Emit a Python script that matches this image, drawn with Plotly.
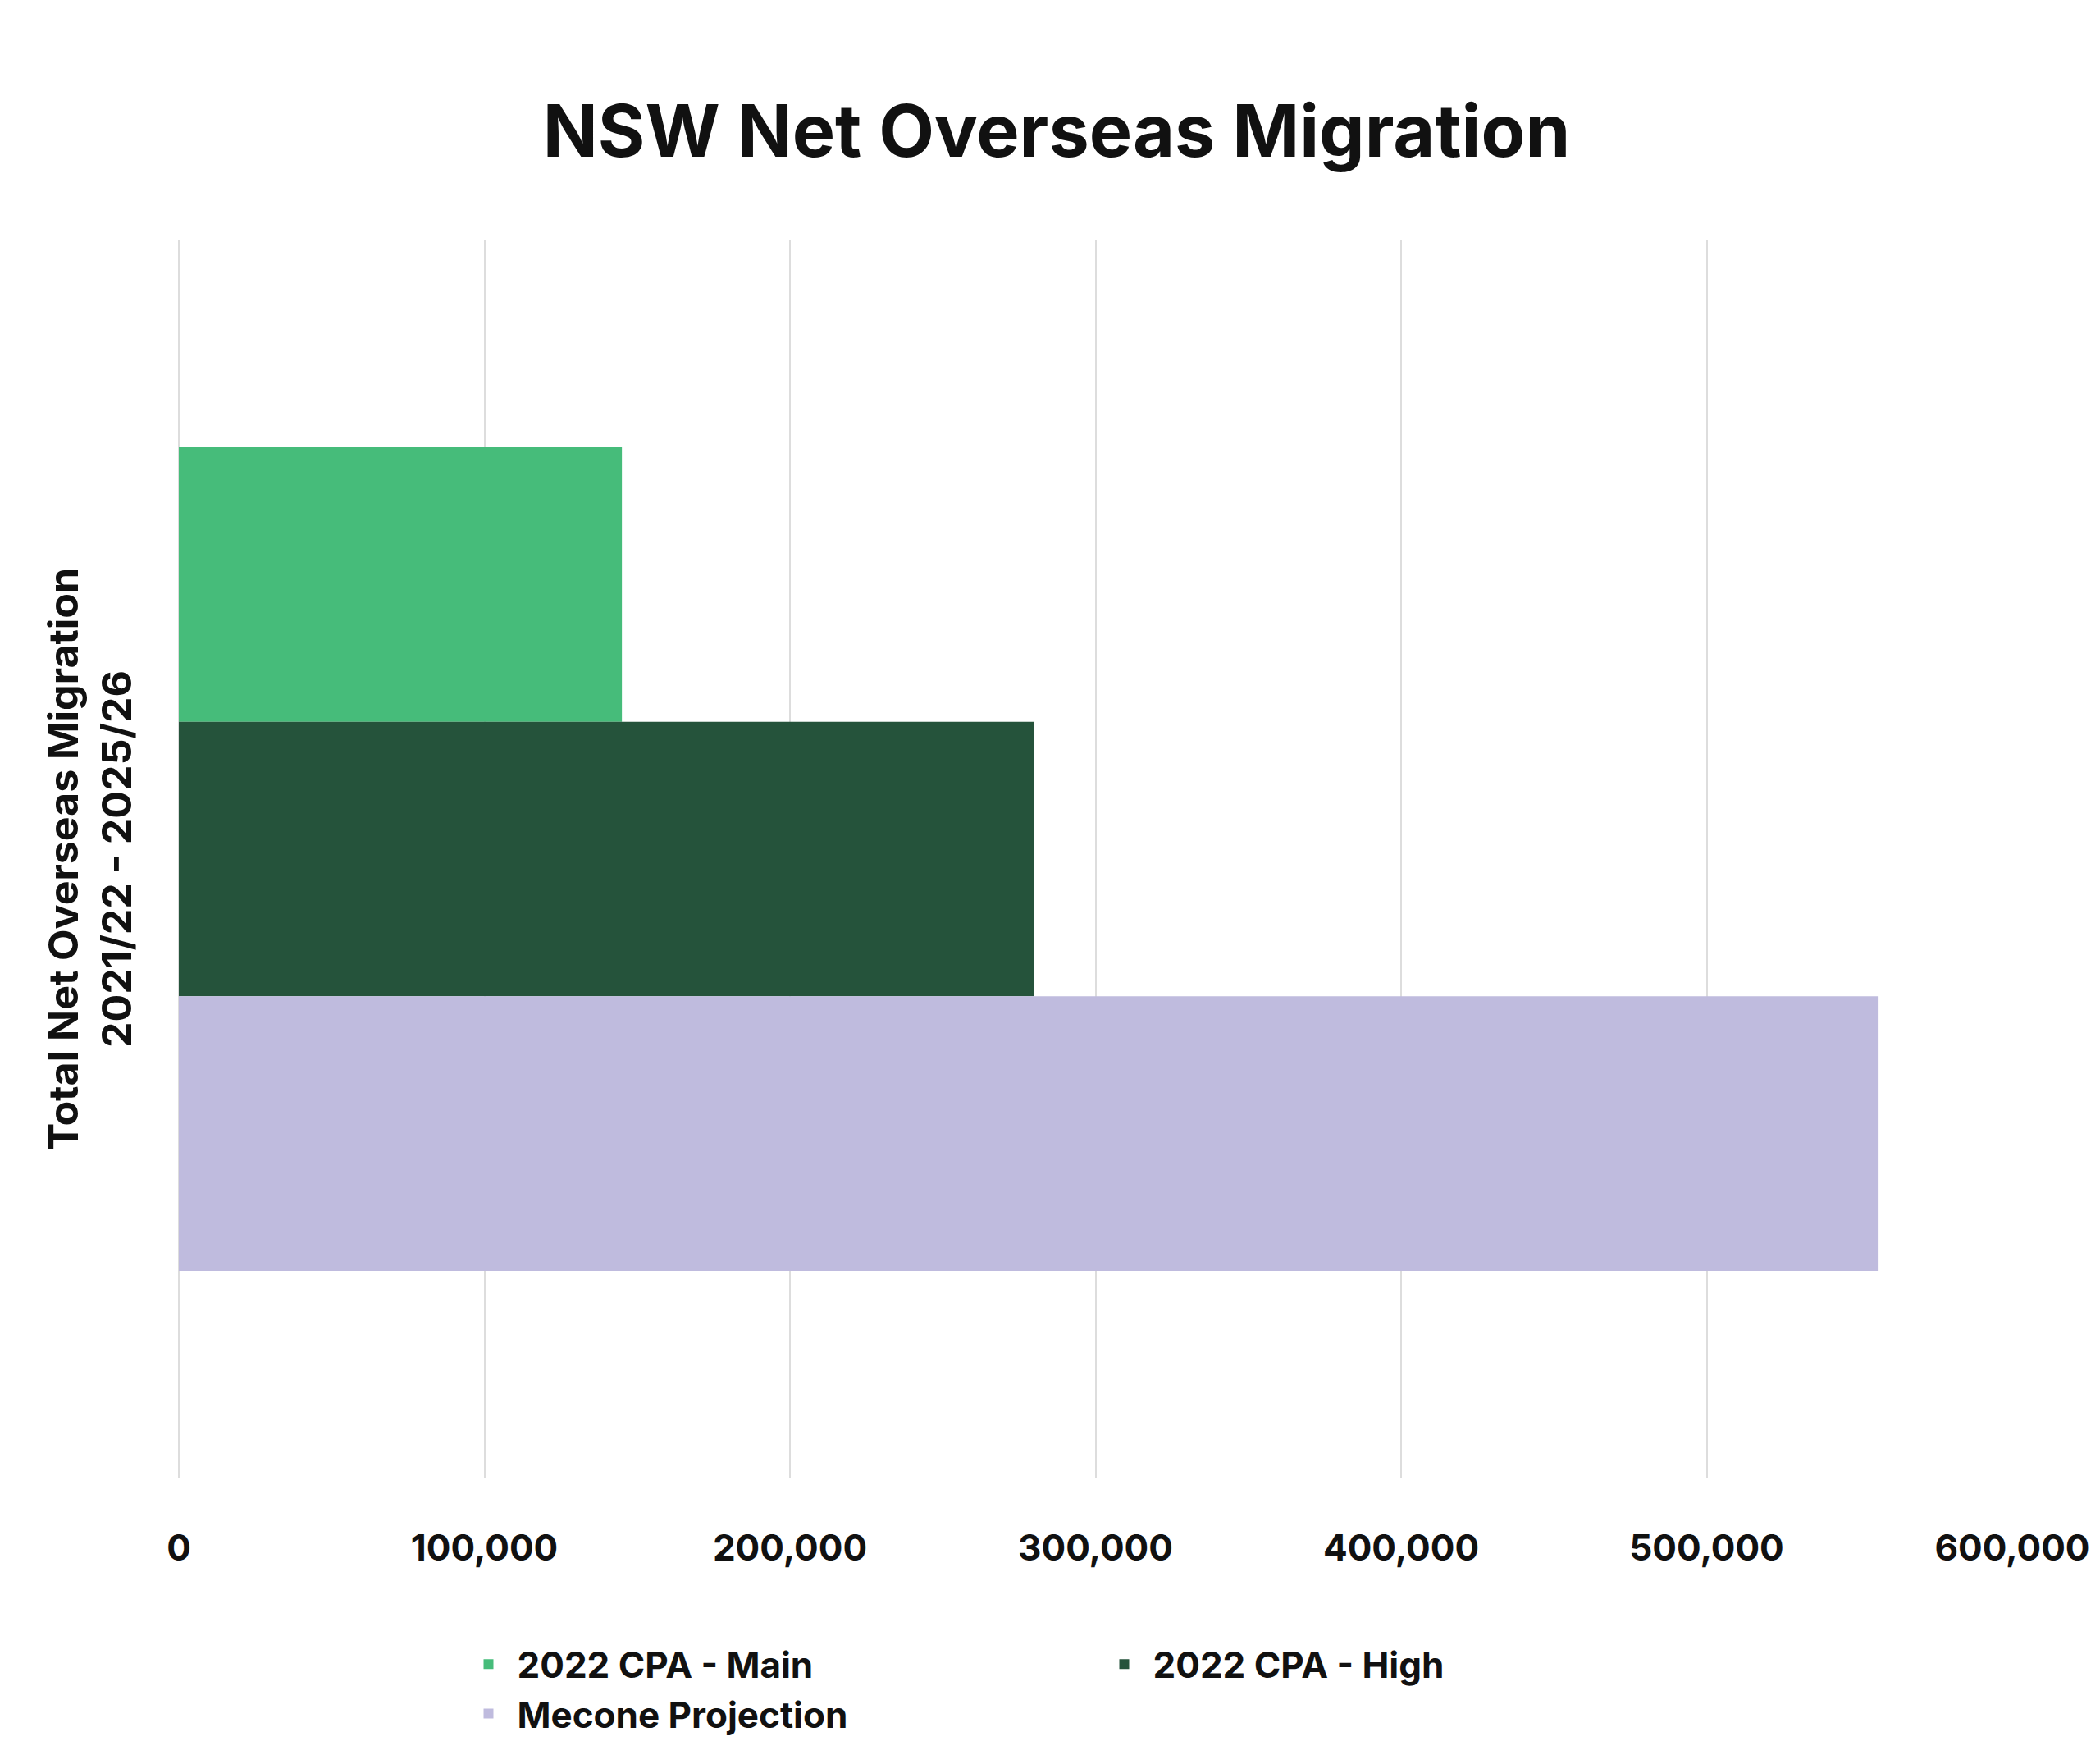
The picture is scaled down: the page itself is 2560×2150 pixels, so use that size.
import plotly.graph_objects as go

category = ["Total Net Overseas Migration"]
series_names = ["2022 CPA - Main", "2022 CPA - High", "Mecone Projection"]
series_values = [[145000], [280000], [556000]]
series_colors = ["#46bc7a", "#25533b", "#bfbbde"]
tick_vals = [0, 100000, 200000, 300000, 400000, 500000, 600000]

font_family = "Inter"

fig = go.Figure()
for name, vals, col in zip(series_names, series_values, series_colors):
    fig.add_trace(go.Bar(x=vals, y=category, name=name, orientation="h",
                         marker=dict(color=col, line=dict(width=0))))

fig.update_layout(
    width=2560, height=2150,
    paper_bgcolor="white", plot_bgcolor="white",
    barmode="group", bargap=0.335, bargroupgap=0,
    margin=dict(l=210, r=115, t=284, b=356),
    font=dict(family=font_family, color="#111111", weight="bold"),
    title=dict(text="<b>NSW Net Overseas Migration</b>", x=0.5, xanchor="center",
               y=0.929, yanchor="middle", font=dict(size=88, family=font_family)),
    xaxis=dict(range=[0, 600000], tickvals=tick_vals, tickformat=",d",
               showgrid=True, gridcolor="#dddddd", gridwidth=2,
               zeroline=True, zerolinecolor="#dddddd", zerolinewidth=2,
               showline=False, ticks="", ticklabelstandoff=55,
               tickfont=dict(size=44, family=font_family, weight="bold")),
    yaxis=dict(autorange="reversed", showticklabels=False, showgrid=False,
               zeroline=False, showline=False,
               title=dict(text="<b>Total Net Overseas Migration<br>2021/22 - 2025/26</b>",
                          standoff=40, font=dict(size=50, family=font_family))),
    legend=dict(orientation="h", x=0.5, xanchor="center", y=-0.17, yanchor="middle",
                traceorder="normal", itemwidth=60, entrywidth=700,
                font=dict(size=44, family=font_family, weight="bold")),
)

fig.write_html("out.html")
